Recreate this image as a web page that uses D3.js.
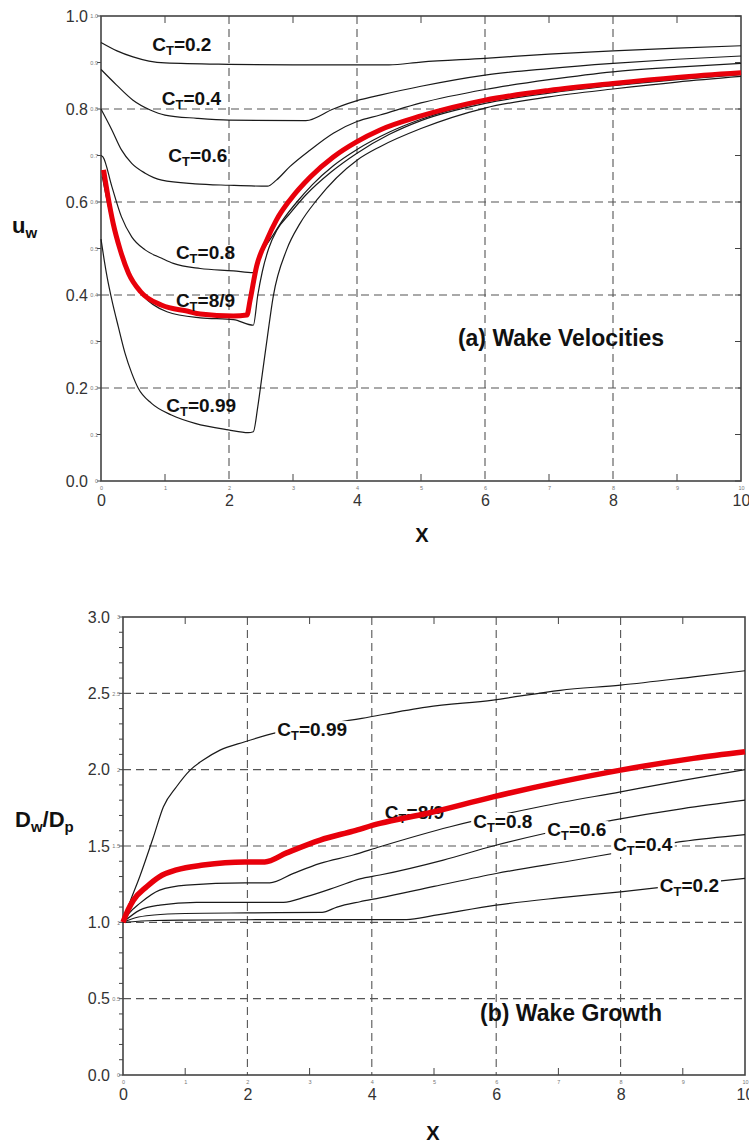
<!DOCTYPE html>
<html>
<head>
<meta charset="utf-8">
<style>
  body { margin: 0; background: #fff; }
  svg { display: block; font-family: 'Liberation Sans', Arial, sans-serif; }
</style>
</head>
<body>
<svg id="chart" width="749" height="1144"></svg>
<script src="https://d3js.org/d3.v7.min.js"></script>
<script>
// ---- data ----
const xMajor = [0, 2, 4, 6, 8, 10];
const xAll = [0, 1, 2, 3, 4, 5, 6, 7, 8, 9, 10];
const xOdd = [1, 3, 5, 7, 9];

const uwMajor = [0.0, 0.2, 0.4, 0.6, 0.8, 1.0];
const uwAll = [0, 0.1, 0.2, 0.3, 0.4, 0.5, 0.6, 0.7, 0.8, 0.9, 1.0];
const uwGrid = [0.2, 0.4, 0.6, 0.8];

const dwMajor = [0.0, 0.5, 1.0, 1.5, 2.0, 2.5, 3.0];
const dwGrid = [0.5, 1.0, 1.5, 2.0, 2.5];

// (a) wake velocity u_w against X
const uw02 = [[0,0.943],[0.25,0.925],[0.5,0.912],[0.75,0.903],[1,0.899],[2,0.896],[3,0.895],[4.5,0.895],[5,0.901],[6,0.909],[7,0.918],[8,0.925],[9,0.931],[10,0.936]];
const uw04 = [[0,0.885],[0.24,0.852],[0.5,0.819],[0.77,0.798],[1,0.787],[1.5,0.78],[2,0.776],[3.2,0.775],[3.63,0.8],[4.05,0.82],[4.36,0.83],[5,0.849],[6,0.873],[7,0.887],[8,0.898],[9,0.907],[10,0.914]];
const uw06 = [[0,0.8],[0.17,0.755],[0.32,0.712],[0.48,0.683],[0.69,0.662],[0.95,0.647],[1.47,0.639],[2,0.636],[2.6,0.634],[2.74,0.647],[2.95,0.676],[3.27,0.712],[3.63,0.748],[4,0.773],[4.36,0.787],[5,0.813],[6,0.842],[7,0.863],[8,0.88],[9,0.89],[10,0.898]];
const uw08 = [[0,0.7],[0.03,0.697],[0.17,0.633],[0.32,0.568],[0.48,0.525],[0.69,0.497],[0.95,0.479],[1.13,0.468],[1.55,0.457],[2.07,0.452],[2.38,0.448],[2.45,0.47],[2.55,0.5],[2.67,0.525],[2.85,0.563],[3.06,0.6],[3.3,0.637],[3.63,0.678],[4,0.713],[4.5,0.75],[5,0.778],[6,0.816],[7,0.838],[8,0.853],[9,0.866],[10,0.876]];
const uw09 = [[0.02,0.655],[0.1,0.6],[0.2,0.54],[0.32,0.485],[0.45,0.44],[0.65,0.4],[1.03,0.364],[1.55,0.351],[2.07,0.347],[2.38,0.335],[2.45,0.4],[2.52,0.45],[2.62,0.5],[2.75,0.54],[2.95,0.575],[3.2,0.615],[3.6,0.665],[4,0.705],[4.5,0.745],[5,0.775],[6,0.812],[7,0.834],[8,0.85],[9,0.863],[10,0.874]];
const uw099 = [[0,0.52],[0.05,0.475],[0.1,0.435],[0.17,0.389],[0.27,0.332],[0.375,0.275],[0.48,0.232],[0.58,0.2],[0.79,0.167],[1.1,0.142],[1.47,0.124],[1.99,0.11],[2.3,0.104],[2.38,0.106],[2.45,0.16],[2.52,0.23],[2.6,0.31],[2.69,0.396],[2.9,0.497],[3.11,0.554],[3.37,0.604],[4,0.69],[4.36,0.719],[5,0.758],[6,0.802],[7,0.826],[8,0.843],[9,0.858],[10,0.87]];
const uw89 = [[0.04,0.669],[0.11,0.611],[0.19,0.554],[0.3,0.497],[0.43,0.447],[0.62,0.407],[0.95,0.378],[1.36,0.365],[1.55,0.359],[2.07,0.355],[2.28,0.357],[2.33,0.389],[2.43,0.461],[2.59,0.518],[2.74,0.561],[2.95,0.604],[3.27,0.654],[3.63,0.697],[4,0.73],[4.36,0.755],[5,0.785],[6,0.819],[7,0.84],[8,0.855],[9,0.868],[10,0.878]];

// (b) wake growth D_w/D_p against X
const dw02 = [[0,1],[0.5,1.012],[1,1.015],[2,1.017],[3,1.018],[4.56,1.018],[5,1.045],[6,1.113],[7,1.16],[8,1.2],[9,1.245],[10,1.288]];
const dw04 = [[0,1],[0.2,1.03],[0.5,1.048],[1,1.058],[2,1.062],[3.2,1.065],[3.44,1.1],[3.81,1.135],[4.13,1.16],[5,1.235],[6,1.32],[7.3,1.41],[8,1.46],[9,1.53],[10,1.575]];
const dw06 = [[0,1],[0.27,1.08],[0.59,1.113],[1.18,1.131],[2,1.131],[2.58,1.131],[2.95,1.168],[3.44,1.233],[3.81,1.285],[4.13,1.31],[5.15,1.408],[5.95,1.5],[6.76,1.58],[7.88,1.67],[9,1.745],[10,1.8]];
const dw08 = [[0,1],[0.1,1.06],[0.27,1.124],[0.59,1.211],[1.02,1.244],[1.96,1.259],[2.36,1.259],[2.74,1.321],[3.17,1.386],[3.7,1.441],[4.13,1.495],[5.26,1.626],[6.7,1.757],[8,1.855],[9,1.93],[10,2.0]];
const dw099 = [[0,1],[0.1,1.12],[0.27,1.3],[0.49,1.56],[0.65,1.757],[0.86,1.888],[1.08,1.997],[1.29,2.063],[1.56,2.128],[1.96,2.183],[2.31,2.226],[3.84,2.336],[4.88,2.41],[5.95,2.456],[7.03,2.52],[8,2.554],[9.17,2.608],[10,2.648]];
const dw89 = [[0,1],[0.08,1.08],[0.17,1.146],[0.38,1.233],[0.59,1.3],[0.86,1.343],[1.29,1.375],[1.96,1.396],[2.28,1.396],[2.63,1.455],[3.17,1.539],[3.7,1.598],[4.13,1.648],[4.88,1.713],[5.95,1.822],[7.03,1.92],[8,1.997],[9.17,2.074],[10,2.117]];

const svg = d3.select('#chart');
const fmt1 = d3.format('.1f');

function panel(o) {
  const g = svg.append('g');
  const x = d3.scaleLinear().domain([0, 10]).range([o.left, o.right]);
  const y = d3.scaleLinear().domain(o.yDomain).range([o.bottom, o.top]);

  // dashed grid
  g.append('g').selectAll('line').data(xMajor.slice(1, -1)).join('line')
    .attr('x1', d => x(d)).attr('x2', d => x(d))
    .attr('y1', o.top).attr('y2', o.bottom);
  g.append('g').selectAll('line').data(o.yGrid).join('line')
    .attr('x1', o.left).attr('x2', o.right)
    .attr('y1', d => y(d)).attr('y2', d => y(d));
  g.selectAll('g line').attr('stroke', '#555').attr('stroke-width', 1.1)
    .attr('stroke-dasharray', '8,5');

  // inner ticks on top / bottom at odd X
  const tk = g.append('g').attr('stroke', '#444').attr('stroke-width', 1);
  xOdd.forEach(d => {
    tk.append('line').attr('x1', x(d)).attr('x2', x(d)).attr('y1', o.top).attr('y2', o.top + 7);
    tk.append('line').attr('x1', x(d)).attr('x2', x(d)).attr('y1', o.bottom).attr('y2', o.bottom - 7);
  });
  // minor ticks left (outside) and right (inside)
  o.yMinor.forEach(d => {
    tk.append('line').attr('x1', o.left - o.leftTick).attr('x2', o.left).attr('y1', y(d)).attr('y2', y(d));
    if (o.rightTicks) tk.append('line').attr('x1', o.right - 6).attr('x2', o.right).attr('y1', y(d)).attr('y2', y(d));
  });

  // frame
  g.append('rect').attr('x', o.left).attr('y', o.top)
    .attr('width', o.right - o.left).attr('height', o.bottom - o.top)
    .attr('fill', 'none').attr('stroke', '#444').attr('stroke-width', 1.6);

  // tiny labels
  g.append('g').attr('transform', `translate(0,${o.bottom})`)
    .call(d3.axisBottom(x).tickValues(xAll).tickSize(0).tickPadding(5))
    .call(a => a.select('.domain').remove())
    .selectAll('text').attr('font-size', 5.5).attr('fill', '#777').attr('font-family', 'Liberation Sans');
  g.append('g').attr('transform', `translate(${o.left - 2},0)`)
    .call(d3.axisLeft(y).tickValues(o.yTiny).tickSize(0).tickPadding(1).tickFormat(o.tinyFmt))
    .call(a => a.select('.domain').remove())
    .selectAll('text').attr('font-size', 5.5).attr('fill', '#777').attr('font-family', 'Liberation Sans');

  // big labels
  g.append('g').attr('transform', `translate(0,${o.bottom})`)
    .call(d3.axisBottom(x).tickValues(xMajor).tickSize(0).tickPadding(14))
    .call(a => a.select('.domain').remove())
    .selectAll('text').attr('font-size', 16).attr('fill', '#333').attr('font-family', 'Liberation Sans');
  g.append('g').attr('transform', `translate(${o.left - 13},0)`)
    .call(d3.axisLeft(y).tickValues(o.yMajor).tickSize(0).tickPadding(0).tickFormat(fmt1))
    .call(a => a.select('.domain').remove())
    .selectAll('text').attr('font-size', 16).attr('fill', '#333').attr('font-family', 'Liberation Sans');

  const line = d3.line().x(d => x(d[0])).y(d => y(d[1])).curve(d3.curveMonotoneX);

  g.append('g').selectAll('path').data(o.black).join('path')
    .attr('d', line).attr('fill', 'none').attr('stroke', '#1a1a1a').attr('stroke-width', 1.2);

  if (!o.redOnTop) {
    g.append('path').attr('d', line(o.red)).attr('fill', 'none')
      .attr('stroke', '#e8000b').attr('stroke-width', 5).attr('stroke-linejoin', 'round');
  }

  // curve labels  C_T = ...
  o.labels.forEach(l => {
    const lg = g.append('g');
    const t = lg.append('text').attr('x', x(l.at[0])).attr('y', y(l.at[1]))
      .attr('font-size', 19).attr('font-weight', 'bold').attr('fill', '#111');
    t.append('tspan').text('C');
    t.append('tspan').attr('font-size', 13).attr('dy', 4).text('T');
    t.append('tspan').attr('dy', -4).text('=' + l.ct);
    if (o.mask) {
      const b = t.node().getBBox();
      lg.insert('rect', 'text').attr('x', b.x - 2).attr('y', b.y + 2)
        .attr('width', b.width + 4).attr('height', b.height - 3).attr('fill', '#fff');
    }
  });

  if (o.redOnTop) {
    g.append('path').attr('d', line(o.red)).attr('fill', 'none')
      .attr('stroke', '#e8000b').attr('stroke-width', 5.5).attr('stroke-linejoin', 'round');
  }

  // titles
  g.append('text').attr('x', o.title[0]).attr('y', o.title[1]).attr('text-anchor', 'middle')
    .attr('font-size', 23).attr('font-weight', 'bold').attr('fill', '#111').text(o.titleText);
  g.append('text').attr('x', o.xlab[0]).attr('y', o.xlab[1]).attr('text-anchor', 'middle')
    .attr('font-size', 20).attr('font-weight', 'bold').attr('fill', '#111').text('X');
  const yl = g.append('text').attr('x', o.ylab[0]).attr('y', o.ylab[1])
    .attr('font-weight', 'bold').attr('fill', '#111');
  // [text, font size, baseline shift]
  o.ylabParts.forEach(p => {
    yl.append('tspan').attr('font-size', p[1]).attr('dy', p[2]).text(p[0]);
  });
}

panel({
  left: 101, right: 741, top: 16, bottom: 481,
  yDomain: [0, 1],
  yGrid: uwGrid, yMajor: uwMajor, yMinor: uwAll, yTiny: uwAll,
  tinyFmt: d => d === 0 ? '0' : fmt1(d),
  leftTick: 4, rightTicks: true,
  black: [uw02, uw04, uw06, uw08, uw09, uw099],
  red: uw89,
  labels: [
    {ct: '0.2', at: [0.8, 0.925]},
    {ct: '0.4', at: [0.95, 0.809]},
    {ct: '0.6', at: [1.05, 0.686]},
    {ct: '0.8', at: [1.17, 0.477]},
    {ct: '8/9', at: [1.17, 0.374]},
    {ct: '0.99', at: [1.02, 0.148]}
  ],
  title: [561, 346], titleText: '(a) Wake Velocities',
  xlab: [422, 542],
  ylab: [12, 233], ylabParts: [['u', 22, 0], ['w', 15, 5]]
});

panel({
  left: 123, right: 745, top: 617, bottom: 1075,
  yDomain: [0, 3],
  yGrid: dwGrid, yMajor: dwMajor, yMinor: d3.scaleLinear().domain([0, 3]).ticks(30), yTiny: dwMajor,
  tinyFmt: d3.format('~g'),
  leftTick: 4, rightTicks: false,
  black: [dw02, dw04, dw06, dw08, dw099],
  red: dw89, redOnTop: true, mask: true,
  labels: [
    {ct: '0.99', at: [2.48, 2.22]},
    {ct: '8/9', at: [4.21, 1.676]},
    {ct: '0.8', at: [5.63, 1.618]},
    {ct: '0.6', at: [6.82, 1.565]},
    {ct: '0.4', at: [7.88, 1.467]},
    {ct: '0.2', at: [8.63, 1.198]}
  ],
  title: [571, 1021], titleText: '(b) Wake Growth',
  xlab: [433, 1140],
  ylab: [15, 827], ylabParts: [['D', 22, 0], ['w', 15, 5], ['/D', 22, -5], ['p', 15, 5]]
});
</script>
</body>
</html>
